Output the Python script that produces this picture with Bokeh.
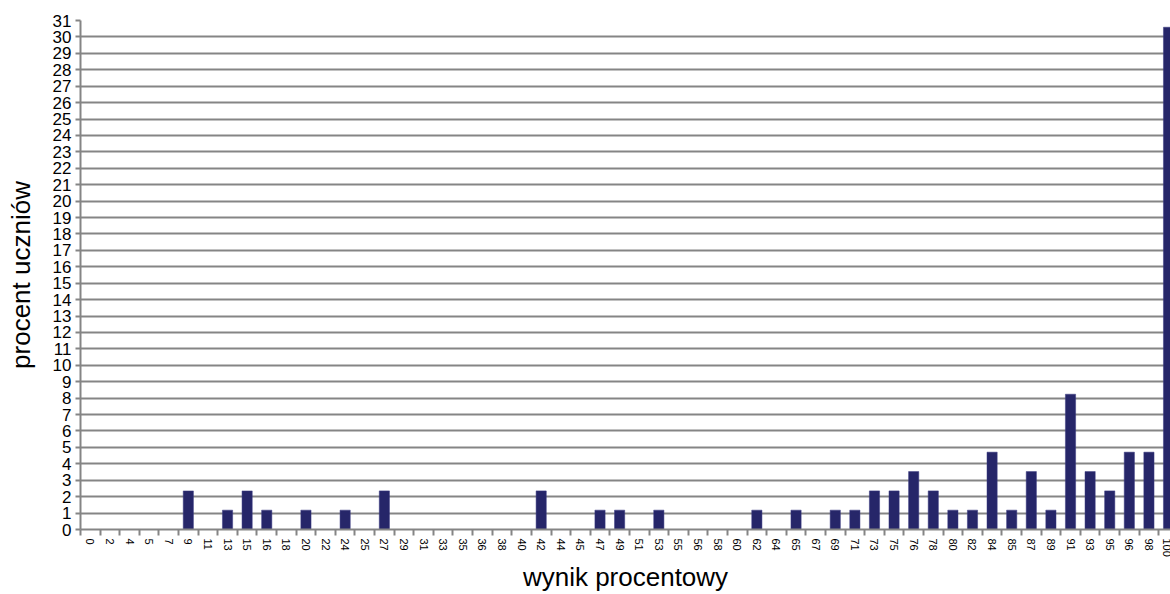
import math
from bokeh.plotting import figure
from bokeh.models import Range1d, FixedTicker, CustomJSTickFormatter
from bokeh.embed import file_html
from bokeh.resources import INLINE

categories = ["0", "2", "4", "5", "7", "9", "11", "13", "15", "16", "18", "20", "22", "24",
              "25", "27", "29", "31", "33", "35", "36", "38", "40", "42", "44", "45", "47",
              "49", "51", "53", "55", "56", "58", "60", "62", "64", "65", "67", "69", "71",
              "73", "75", "76", "78", "80", "82", "84", "85", "87", "89", "91", "93", "95",
              "96", "98", "100"]
values = [0, 0, 0, 0, 0, 2.35, 0, 1.18, 2.35, 1.18, 0, 1.18, 0, 1.18,
          0, 2.35, 0, 0, 0, 0, 0, 0, 0, 2.35, 0, 0, 1.18,
          1.18, 0, 1.18, 0, 0, 0, 0, 1.18, 0, 1.18, 0, 1.18, 1.18,
          2.35, 2.35, 3.53, 2.35, 1.18, 1.18, 4.71, 1.18, 3.53, 1.18, 8.24, 3.53, 2.35,
          4.71, 4.71, 30.59]
y_ticks = list(range(0, 32))
x_title = "wynik procentowy"
y_title = "procent uczniów"

FONT = "Liberation Sans"
GRID = "#858585"
n = len(categories)
x_pos = list(range(n))

p = figure(width=1170, height=594, output_backend="svg", toolbar_location=None,
           x_range=Range1d(-0.5, n - 0.9), y_range=Range1d(0, 31),
           min_border_left=80, min_border_right=0, min_border_top=20, min_border_bottom=65)
p.outline_line_color = None
p.background_fill_color = "white"
p.border_fill_color = "white"

p.vbar(x=x_pos, top=values, width=0.52, fill_color="#262669", line_color="#3a3a80", line_width=0.5)

# x axis
xa = p.xaxis[0]
xa.ticker = FixedTicker(ticks=x_pos, minor_ticks=[i - 0.5 for i in range(n + 1)])
xa.formatter = CustomJSTickFormatter(args=dict(labels=categories),
                                     code="const l = labels[Math.round(tick)]; return l === undefined ? '' : l;")
xa.major_tick_out = 0
xa.major_tick_in = 0
xa.minor_tick_out = 6
xa.minor_tick_in = 0
xa.minor_tick_line_color = GRID
xa.minor_tick_line_width = 2
xa.axis_line_color = GRID
xa.axis_line_width = 2
xa.major_label_orientation = -math.pi / 2
xa.major_label_standoff = 3
xa.major_label_text_font = FONT
xa.major_label_text_font_size = "11px"
xa.major_label_text_color = "black"
xa.axis_label = x_title
xa.axis_label_text_font = FONT
xa.axis_label_text_font_size = "26px"
xa.axis_label_text_font_style = "normal"
xa.axis_label_text_color = "black"
xa.axis_label_standoff = 2

# y axis
ya = p.yaxis[0]
ya.ticker = FixedTicker(ticks=y_ticks)
ya.major_tick_out = 5
ya.major_tick_in = 0
ya.minor_tick_out = 0
ya.minor_tick_in = 0
ya.major_tick_line_color = GRID
ya.major_tick_line_width = 2
ya.axis_line_color = GRID
ya.axis_line_width = 2
ya.major_label_standoff = 4
ya.major_label_text_font = FONT
ya.major_label_text_font_size = "17px"
ya.major_label_text_color = "black"
ya.axis_label = y_title
ya.axis_label_text_font = FONT
ya.axis_label_text_font_size = "26px"
ya.axis_label_text_font_style = "normal"
ya.axis_label_text_color = "black"
ya.axis_label_standoff = 14

p.xgrid.visible = False
p.ygrid.ticker = FixedTicker(ticks=y_ticks)
p.ygrid.grid_line_color = GRID
p.ygrid.grid_line_width = 2

open("out.html", "w").write(file_html(p, INLINE))
